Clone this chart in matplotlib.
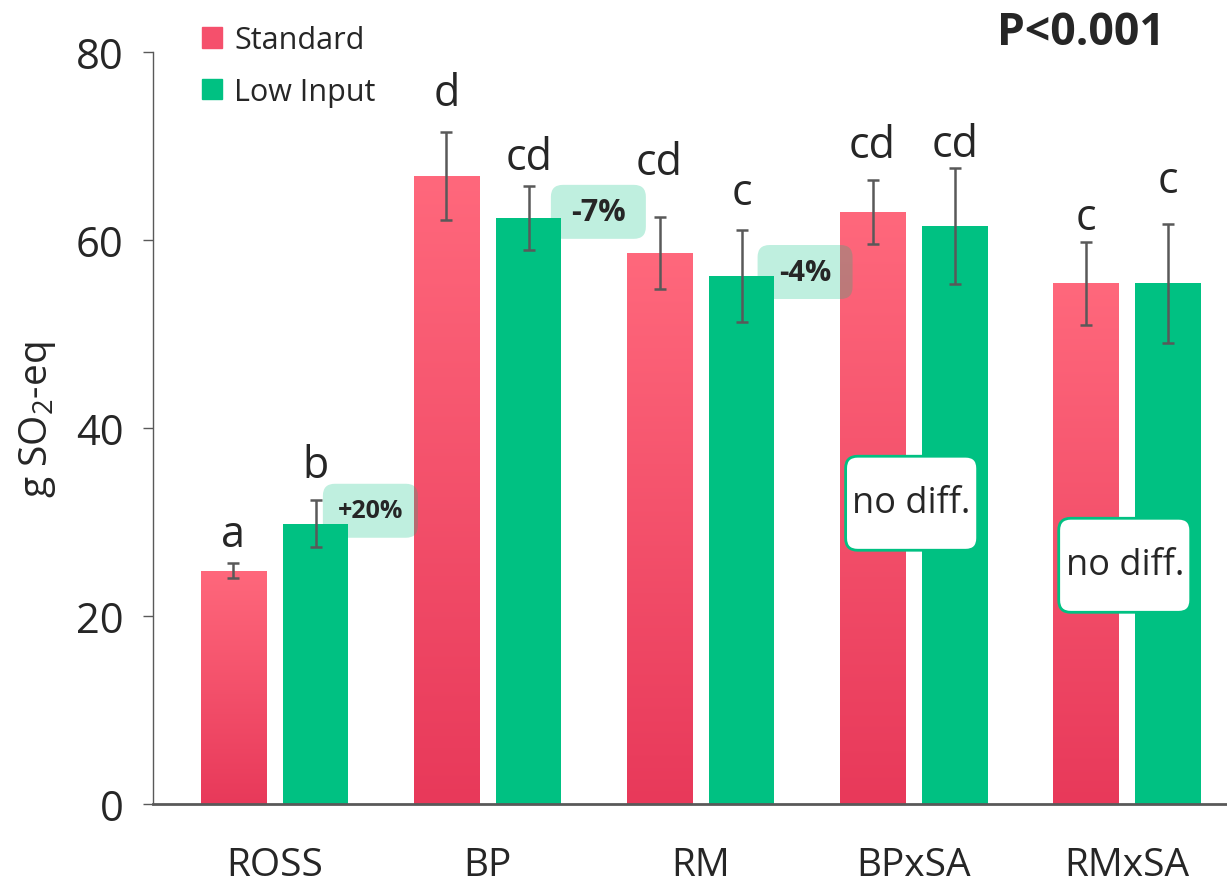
import matplotlib.pyplot as plt
import matplotlib.transforms as mtransforms
from matplotlib.colors import LinearSegmentedColormap
from matplotlib.patches import FancyBboxPatch, Rectangle
import numpy as np

plt.rcParams['font.family'] = ['Open Sans', 'DejaVu Sans']
plt.rcParams['mathtext.fontset'] = 'custom'
plt.rcParams['mathtext.rm'] = 'Open Sans'

categories = ['ROSS', 'BP', 'RM', 'BPxSA', 'RMxSA']
standard = [24.8, 66.8, 58.6, 63.0, 55.4]
standard_err = [0.8, 4.7, 3.8, 3.4, 4.4]
low_input = [29.8, 62.3, 56.2, 61.5, 55.4]
low_input_err = [2.5, 3.4, 4.9, 6.2, 6.3]

# letters of the post-hoc test and where they sit
standard_letters = ['a', 'd', 'cd', 'cd', 'c']
low_letters = ['b', 'cd', 'c', 'cd', 'c']
standard_letter_y = [27.4, 74.4, 67.0, 68.8, 61.2]
low_letter_y = [34.8, 67.6, 63.8, 68.9, 65.1]

# percent change labels
changes = ['+20%', '-7%', '-4%']
change_x = [0.45, 1.52, 2.49]
change_y = [31.2, 63.0, 56.6]
change_size = [18, 22, 21]

nodiff_x = [2.99, 3.99]
nodiff_y = [32.0, 25.4]

red_top = '#ff687c'
red_bottom = '#e8395a'
green = '#00c182'
text_col = '#262626'
grey = '#595959'

fig = plt.figure(figsize=(12.27, 8.87), dpi=100)
ax = fig.add_axes([0.1247, 0.0924, 0.8753, 0.8478])

x = np.arange(len(categories))
w = 0.307
off = 0.193

cmap = LinearSegmentedColormap.from_list('red', [red_bottom, red_top])
grad = np.linspace(0, 1, 256).reshape(-1, 1)

bars_s = ax.bar(x - off, standard, w, color=red_top, zorder=2)
for b in bars_s:
    b.set_facecolor('none')
    b.set_edgecolor('none')
    im = ax.imshow(grad, cmap=cmap, origin='lower', aspect='auto', zorder=2,
                   extent=[b.get_x(), b.get_x() + b.get_width(), 0, b.get_height()])
    im.set_clip_path(b)
ax.bar(x + off, low_input, w, color=green, zorder=2)

ax.errorbar(x - off, standard, yerr=standard_err, fmt='none', ecolor=grey,
            elinewidth=1.8, capsize=4.5, capthick=1.8, zorder=4)
ax.errorbar(x + off, low_input, yerr=low_input_err, fmt='none', ecolor=grey,
            elinewidth=1.8, capsize=4.5, capthick=1.8, zorder=4)

for i in range(len(categories)):
    ax.text(x[i] - off, standard_letter_y[i], standard_letters[i], ha='center',
            va='baseline', fontsize=31, color=text_col)
    ax.text(x[i] + off, low_letter_y[i], low_letters[i], ha='center',
            va='baseline', fontsize=31, color=text_col)

# boxes sized in inches, anchored at a data point
def box(xc, yc, wi, hi, face, edge, alpha, lw):
    tr = fig.dpi_scale_trans + mtransforms.ScaledTranslation(xc, yc, ax.transData)
    p = FancyBboxPatch((-wi / 2, -hi / 2), wi, hi,
                       boxstyle='round,pad=0,rounding_size=0.12',
                       facecolor=face, edgecolor=edge, alpha=alpha, lw=lw,
                       transform=tr, zorder=5, clip_on=False)
    ax.add_patch(p)

for lab, cx, cy, fs in zip(changes, change_x, change_y, change_size):
    box(cx, cy, 0.95, 0.54, green, 'none', 0.25, 0)
    ax.text(cx, cy, lab, ha='center', va='center', fontsize=fs,
            fontweight='bold', color=text_col, zorder=6)

for cx, cy in zip(nodiff_x, nodiff_y):
    box(cx, cy, 1.32, 0.94, 'white', green, 1, 2)
    ax.text(cx, cy, 'no diff.', ha='center', va='center', fontsize=26,
            color=text_col, zorder=6)

ax.set_xlim(-0.57, 4.47)
ax.set_ylim(0, 80)
ax.set_yticks([0, 20, 40, 60, 80])
ax.set_xticks(x)
ax.set_xticklabels(categories, fontsize=28, color=text_col)
ax.tick_params(axis='y', labelsize=30, labelcolor=text_col, length=7,
               width=1, color=grey, pad=14)
ax.tick_params(axis='x', length=0, pad=30)
ax.spines['top'].set_visible(False)
ax.spines['right'].set_visible(False)
ax.spines['left'].set_color(grey)
ax.spines['left'].set_linewidth(1)
ax.spines['bottom'].set_color(grey)
ax.spines['bottom'].set_linewidth(2)

ax.set_ylabel(r'g SO$_\mathregular{2}$-eq', fontsize=28, color=text_col)
ax.yaxis.set_label_coords(-0.088, 0.512)

handles = [Rectangle((0, 0), 1, 1, color='#f5506c'), Rectangle((0, 0), 1, 1, color=green)]
ax.legend(handles, ['Standard', 'Low Input'], loc='upper left',
          bbox_to_anchor=(0.02, 1.072), frameon=False, fontsize=22,
          handlelength=0.65, handleheight=0.65, handletextpad=0.4,
          labelspacing=0.7, labelcolor=text_col)

fig.text(0.949, 0.962, 'P<0.001', ha='right', va='center', fontsize=32,
         fontweight='bold', color=text_col)

fig.savefig('out.png', dpi=100)
